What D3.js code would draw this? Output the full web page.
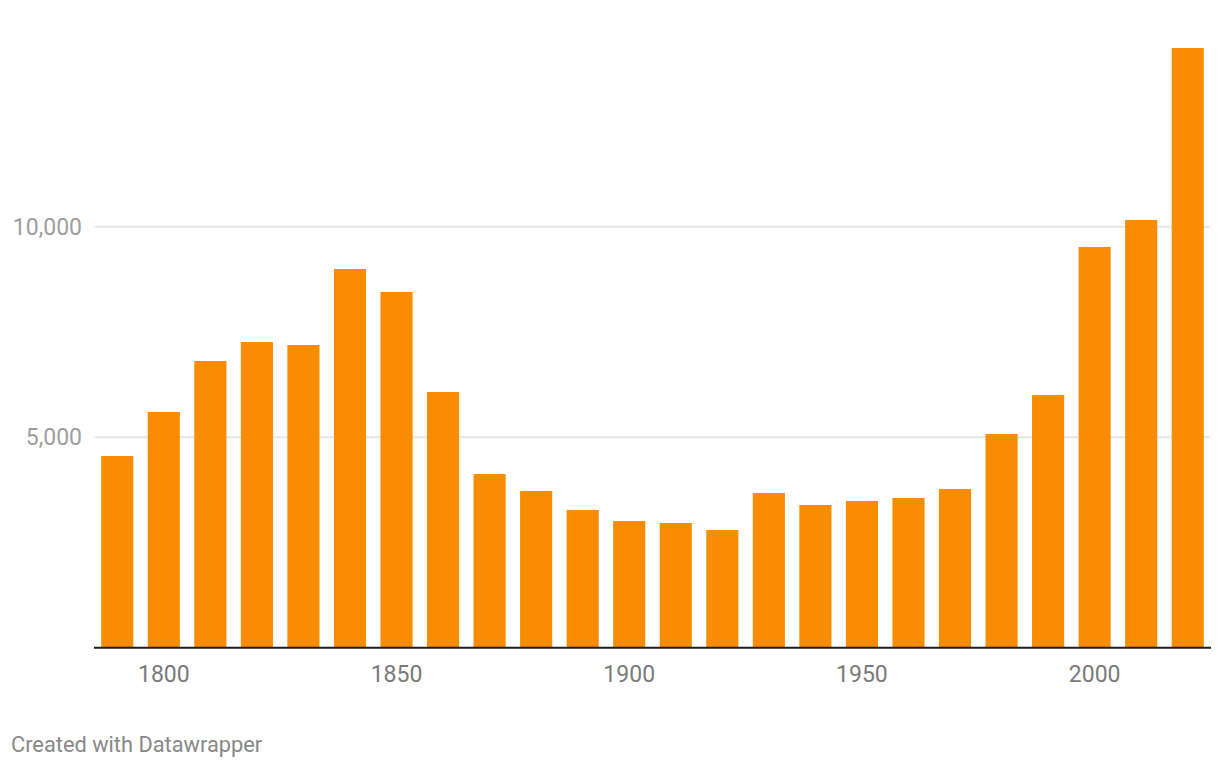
<!DOCTYPE html>
<html>
<head>
<meta charset="utf-8">
<script src="https://cdn.jsdelivr.net/npm/d3@7"></script>
<style>
  html, body { margin: 0; padding: 0; background: #fff; }
  svg { display: block; font-family: Roboto, "Noto Sans", sans-serif; }
</style>
</head>
<body>
<svg id="chart" width="1220" height="770"></svg>
<script>
const years = [1790,1800,1810,1820,1830,1840,1850,1860,1870,1880,1890,1900,1910,1920,1930,1940,1950,1960,1970,1980,1990,2000,2010,2020];
const values = [4553,5598,6810,7261,7190,8995,8449,6074,4126,3722,3271,3009,2962,2796,3675,3390,3485,3556,3770,5076,6002,9518,10159,14245];
const xTickYears = [1800,1850,1900,1950,2000];
const yTicks = [5000,10000];
const footer = "Created with Datawrapper";

const svg = d3.select("#chart");
const left = 94, right = 1211, baseY = 647.7;

const x = d3.scaleBand()
  .domain(years)
  .range([left, right])
  .paddingInner(0.31)
  .paddingOuter(0.155);

const y = d3.scaleLinear()
  .domain([0, 15000])
  .range([baseY, baseY - 15000 * 0.0421]);

// gridlines
svg.append("g").selectAll("line").data(yTicks).join("line")
  .attr("x1", 95).attr("x2", 1210)
  .attr("y1", d => y(d)).attr("y2", d => y(d))
  .attr("stroke", "#e6e6e6").attr("stroke-width", 2);

// y labels
const yAxis = d3.axisLeft(y).tickValues(yTicks).tickSize(0).tickPadding(0)
  .tickFormat(d3.format(","));
const gy = svg.append("g").attr("transform", "translate(82,0)").call(yAxis);
gy.select(".domain").remove();
gy.selectAll("text")
  .attr("fill", "#9e9e9e")
  .attr("font-size", "23px")
  .attr("font-family", "Roboto, sans-serif")
  .attr("dy", "0.32em");

// bars
svg.append("g").selectAll("rect").data(years).join("rect")
  .attr("x", d => x(d))
  .attr("width", x.bandwidth())
  .attr("y", (d, i) => y(values[i]))
  .attr("height", (d, i) => y(0) - y(values[i]))
  .attr("fill", "#f98c00");

// baseline
svg.append("line")
  .attr("x1", left).attr("x2", right)
  .attr("y1", baseY).attr("y2", baseY)
  .attr("stroke", "#1d1d1d").attr("stroke-width", 2);

// x labels
const xAxis = d3.axisBottom(x).tickValues(xTickYears).tickSize(0).tickPadding(0);
const gx = svg.append("g").attr("transform", `translate(0,${baseY})`).call(xAxis);
gx.select(".domain").remove();
gx.selectAll("text")
  .attr("fill", "#7a7a7a")
  .attr("font-size", "23px")
  .attr("font-family", "Roboto, sans-serif")
  .attr("dy", null)
  .attr("y", 34);

// footer
svg.append("text")
  .attr("x", 11).attr("y", 752)
  .attr("fill", "#888")
  .attr("font-size", "21.8px")
  .text(footer);
</script>
</body>
</html>
